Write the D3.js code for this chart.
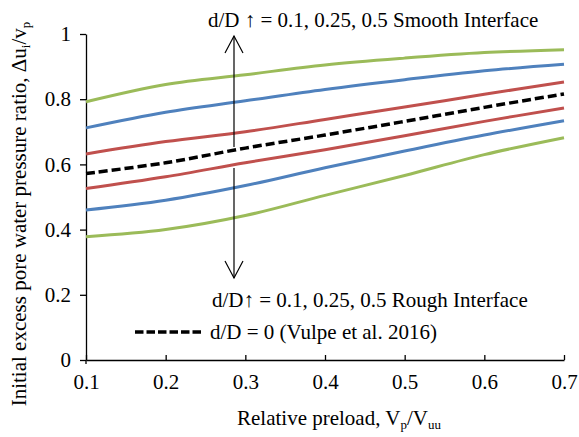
<!DOCTYPE html>
<html>
<head>
<meta charset="utf-8">
<script src="https://cdn.jsdelivr.net/npm/d3@7"></script>
<style>
  body { margin: 0; background: #fff; }
</style>
</head>
<body>
<div id="chart"></div>
<script>
// relative preload values (x)
var preload = [0.1, 0.2, 0.3, 0.4, 0.5, 0.6, 0.7];
// d/D = 0.1, 0.25, 0.5 smooth interface
var smooth01 = [0.632, 0.670, 0.700, 0.738, 0.776, 0.815, 0.853];
var smooth025 = [0.712, 0.760, 0.795, 0.830, 0.860, 0.887, 0.907];
var smooth05 = [0.792, 0.845, 0.875, 0.905, 0.926, 0.943, 0.952];
// d/D = 0.1, 0.25, 0.5 rough interface
var rough01 = [0.526, 0.562, 0.605, 0.645, 0.688, 0.732, 0.773];
var rough025 = [0.460, 0.490, 0.535, 0.590, 0.641, 0.690, 0.734];
var rough05 = [0.378, 0.400, 0.443, 0.505, 0.566, 0.630, 0.682];
// d/D = 0 (Vulpe et al. 2016)
var vulpe = [0.572, 0.605, 0.650, 0.690, 0.732, 0.775, 0.816];

var xTicks = [0.1, 0.2, 0.3, 0.4, 0.5, 0.6, 0.7];
var yTicks = [0, 0.2, 0.4, 0.6, 0.8, 1];

var series = [
  { values: smooth05, color: "#9BBB59" },
  { values: smooth025, color: "#4F81BD" },
  { values: smooth01, color: "#C0504D" },
  { values: rough01, color: "#C0504D" },
  { values: rough025, color: "#4F81BD" },
  { values: rough05, color: "#9BBB59" }
];

var FONT = "'Liberation Serif'";
var WIDTH = 579, HEIGHT = 437;
var MARGINS = { top: 34, right: 15, bottom: 77, left: 86 };

var svg = d3.select("#chart").append("svg")
  .attr("width", WIDTH).attr("height", HEIGHT);

var xScale = d3.scaleLinear().domain([0.1, 0.7])
  .range([MARGINS.left, WIDTH - MARGINS.right]);
var yScale = d3.scaleLinear().domain([0, 1])
  .range([HEIGHT - MARGINS.bottom, MARGINS.top]);

// axes
var xAxis = d3.axisBottom(xScale).tickValues(xTicks).tickSizeInner(-5).tickSizeOuter(0)
  .tickPadding(14).tickFormat(d3.format(".1f"));
var yAxis = d3.axisLeft(yScale).tickValues(yTicks).tickSizeInner(6).tickSizeOuter(0)
  .tickPadding(9).tickFormat(function(d) { return d === 0 || d === 1 ? d : d3.format(".1f")(d); });

var gX = svg.append("g").attr("transform", "translate(0," + yScale(0) + ")").call(xAxis);
var gY = svg.append("g").attr("transform", "translate(" + xScale(0.1) + ",0)").call(yAxis);
[gX, gY].forEach(function(g) {
  g.attr("font-family", FONT).attr("font-size", 21);
  g.select(".domain").attr("stroke", "#000").attr("stroke-width", 1.3);
  g.selectAll(".tick line").attr("stroke", "#000").attr("stroke-width", 1.3);
  g.selectAll(".tick text").style("font-family", FONT).style("font-size", "21px").attr("fill", "#000");
});
// small downward tick at origin
svg.append("line").attr("x1", xScale(0.1)).attr("x2", xScale(0.1))
  .attr("y1", yScale(0)).attr("y2", yScale(0) + 4).attr("stroke", "#000").attr("stroke-width", 1.3);

// axis titles
var xTitle = svg.append("text").attr("x", 339).attr("y", 425)
  .attr("text-anchor", "middle").style("font-family", FONT).style("font-size", "21px");
xTitle.append("tspan").text("Relative preload, V");
xTitle.append("tspan").attr("dy", 4).style("font-size", "13px").text("p");
xTitle.append("tspan").attr("dy", -4).text("/V");
xTitle.append("tspan").attr("dy", 4).style("font-size", "13px").text("uu");

var yTitle = svg.append("text").attr("transform", "translate(26,214) rotate(-90)")
  .attr("text-anchor", "middle").style("font-family", FONT).style("font-size", "21px");
yTitle.append("tspan").text("Initial excess pore water pressure ratio, \u0394u");
yTitle.append("tspan").attr("dy", 4).style("font-size", "13px").text("i");
yTitle.append("tspan").attr("dy", -4).text("/v");
yTitle.append("tspan").attr("dy", 4).style("font-size", "13px").text("p");

// lines
var lineGen = d3.line().curve(d3.curveCatmullRom.alpha(0.5))
  .x(function(d, i) { return xScale(preload[i]); })
  .y(function(d) { return yScale(d); });

series.forEach(function(s) {
  svg.append("path").attr("d", lineGen(s.values)).attr("fill", "none")
    .attr("stroke", s.color).attr("stroke-width", 3);
});
svg.append("path").attr("d", lineGen(vulpe)).attr("fill", "none")
  .attr("stroke", "#000").attr("stroke-width", 3.5).attr("stroke-dasharray", "9,4");

// annotation arrows
var ax = 234;
function arrow(yFrom, yTo) {
  var dir = yTo < yFrom ? 1 : -1;
  svg.append("line").attr("x1", ax).attr("x2", ax).attr("y1", yFrom).attr("y2", yTo)
    .attr("stroke", "#000").attr("stroke-width", 1.2);
  svg.append("path")
    .attr("d", "M" + (ax - 9) + "," + (yTo + dir * 17) + "L" + ax + "," + yTo + "L" + (ax + 9) + "," + (yTo + dir * 17))
    .attr("fill", "none").attr("stroke", "#000").attr("stroke-width", 1.2);
}
arrow(147, 36);
arrow(168, 278);

svg.append("text").attr("x", 208).attr("y", 27).style("font-family", FONT).style("font-size", "21px")
  .text("d/D \u2191 = 0.1, 0.25, 0.5 Smooth Interface");
svg.append("text").attr("x", 212).attr("y", 307).style("font-family", FONT).style("font-size", "21px")
  .text("d/D\u2191 = 0.1, 0.25, 0.5 Rough Interface");

// legend
svg.append("line").attr("x1", 135).attr("x2", 202).attr("y1", 332).attr("y2", 332)
  .attr("stroke", "#000").attr("stroke-width", 3.5).attr("stroke-dasharray", "8.5,3");
svg.append("text").attr("x", 210).attr("y", 339).style("font-family", FONT).style("font-size", "21px")
  .text("d/D = 0 (Vulpe et al. 2016)");
</script>
</body>
</html>
